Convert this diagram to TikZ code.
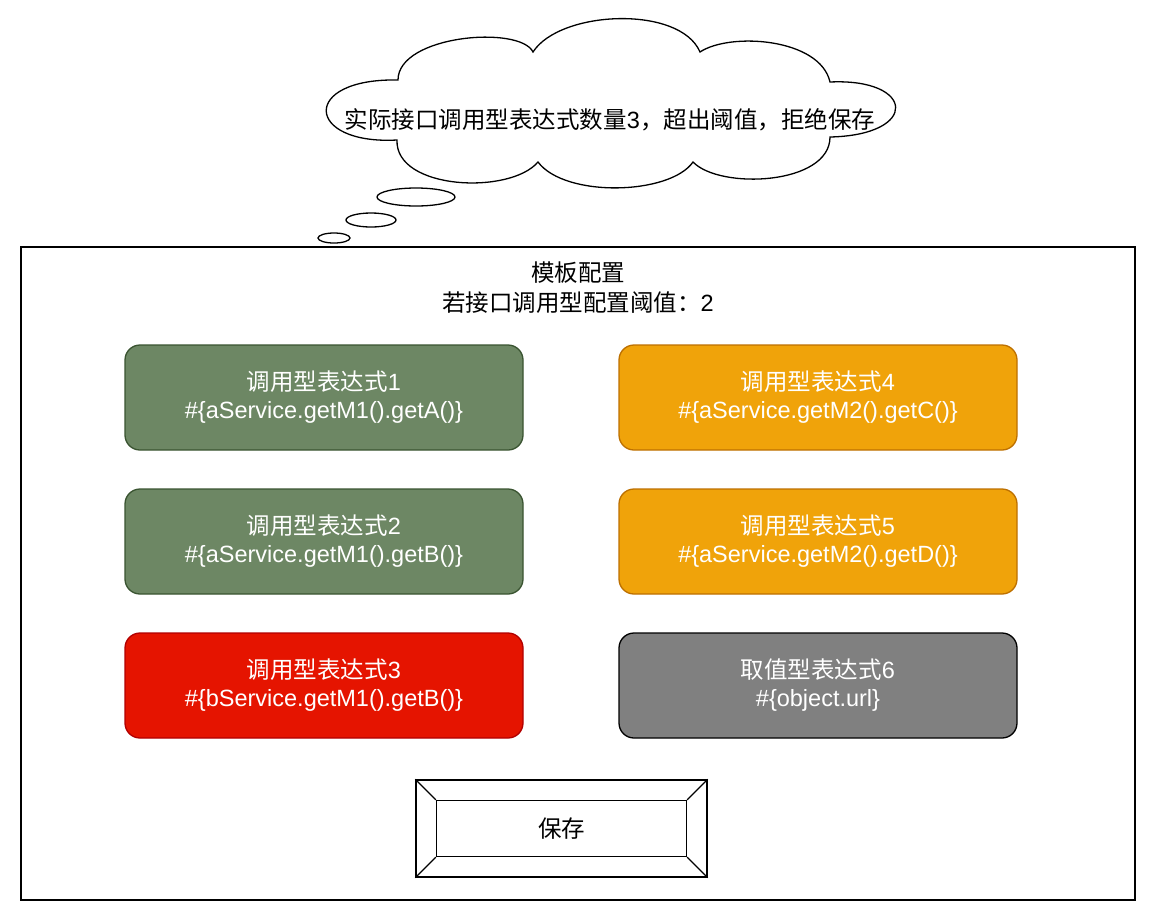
\documentclass[tikz,border=0pt]{standalone}
\usepackage{fontspec}
\setmainfont{Liberation Sans}
\newfontfamily\cjk{Noto Sans CJK SC}
\newcommand{\zh}[1]{{\cjk #1}}
\definecolor{exprgreen}{HTML}{6D8764}
\definecolor{exprgreenline}{HTML}{3A5431}
\definecolor{exprorange}{HTML}{F0A30A}
\definecolor{exprorangeline}{HTML}{BD7000}
\definecolor{exprred}{HTML}{E51400}
\definecolor{exprredline}{HTML}{B20000}
\definecolor{exprgray}{HTML}{808080}
\tikzset{
  txt/.style={font=\fontsize{23.5}{28}\selectfont, align=center},
  expr/.style={txt, draw, rounded corners=15pt, line width=1.3pt,
    minimum width=398pt, minimum height=105pt, text=white},
  greenexpr/.style={expr, fill=exprgreen, draw=exprgreenline},
  orangeexpr/.style={expr, fill=exprorange, draw=exprorangeline},
  redexpr/.style={expr, fill=exprred, draw=exprredline},
  grayexpr/.style={expr, fill=exprgray, draw=black}
}
\begin{document}
\begin{tikzpicture}[x=1pt,y=-1pt,line width=1.3pt]
  \useasboundingbox[fill=white] (0,0) rectangle (1156,922);
  % thought cloud
  \draw[fill=white] (398,80) .. controls (398,35) and (520,25) .. (533,52)
    .. controls (560,10) and (680,5) .. (700,52)
    .. controls (730,32) and (820,38) .. (830,82)
    .. controls (915,78) and (920,135) .. (830,137)
    .. controls (830,185) and (720,190) .. (693,162)
    .. controls (670,195) and (565,198) .. (538,162)
    .. controls (510,195) and (395,190) .. (397,140)
    .. controls (305,145) and (300,78) .. cycle;
  \node[txt] (warn) at (610,120) {\zh{实际接口调用型表达式数量}3\zh{，超出阈值，拒绝保存}};
  \draw (416,197) ellipse [x radius=39pt, y radius=9pt];
  \draw (371,220) ellipse [x radius=25pt, y radius=7pt];
  \draw (334,238) ellipse [x radius=16pt, y radius=5pt];
  % template frame
  \node[draw, minimum width=1114pt, minimum height=653pt] (frame) at (578,573.5) {};
  \node[txt, baseline] (title) at (578,288) {\zh{模板配置}\\[2pt]\zh{若接口调用型配置阈值：}2};
  % expressions
  \node[greenexpr] (expr1) at (324,397.5) {\zh{调用型表达式}1\\\#\{aService.getM1().getA()\}};
  \node[greenexpr] (expr2) at (324,541.5) {\zh{调用型表达式}2\\\#\{aService.getM1().getB()\}};
  \node[redexpr] (expr3) at (324,685.5) {\zh{调用型表达式}3\\\#\{bService.getM1().getB()\}};
  \node[orangeexpr] (expr4) at (818,397.5) {\zh{调用型表达式}4\\\#\{aService.getM2().getC()\}};
  \node[orangeexpr] (expr5) at (818,541.5) {\zh{调用型表达式}5\\\#\{aService.getM2().getD()\}};
  \node[grayexpr] (expr6) at (818,685.5) {\zh{取值型表达式}6\\\#\{object.url\}};
  % save button
  \node[draw, minimum width=291pt, minimum height=97pt] (save) at (561.5,828.5) {};
  \node[txt, draw, minimum width=250pt, minimum height=56pt] (saveinner) at (561.5,828.5) {\zh{保存}};
  \draw (save.north west) -- (saveinner.north west);
  \draw (save.north east) -- (saveinner.north east);
  \draw (save.south west) -- (saveinner.south west);
  \draw (save.south east) -- (saveinner.south east);
\end{tikzpicture}
\end{document}
